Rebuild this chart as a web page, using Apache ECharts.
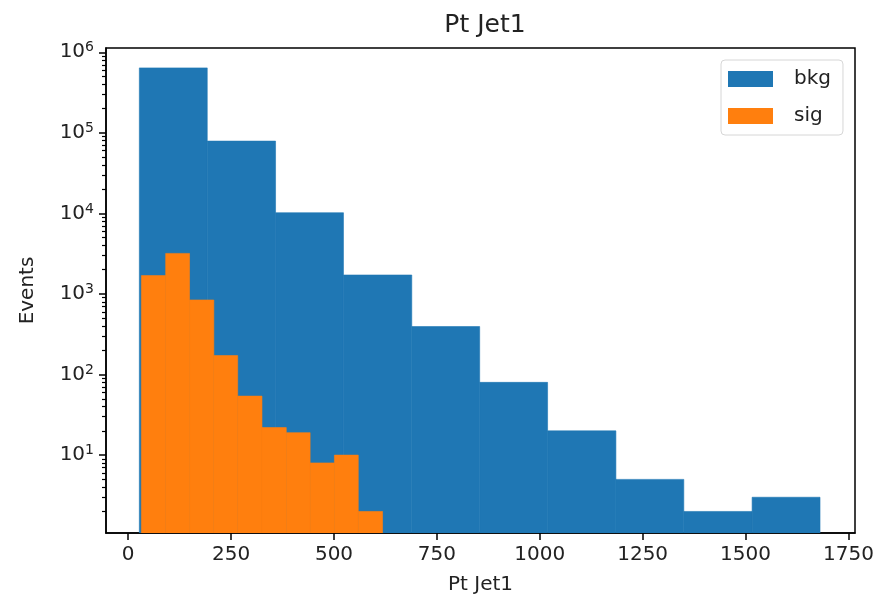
<!DOCTYPE html>
<html>
<head>
    <meta charset="UTF-8"/>
    <title>Pt Jet1</title>
    <style>
        html, body { margin: 0; padding: 0; background: #fff; }
        #chart { width: 880px; height: 603px; }
    </style>
</head>
<body>
<div id="chart"></div>
<script src="https://cdn.jsdelivr.net/npm/echarts@6/dist/echarts.min.js" type="text/javascript"></script>
<script type="text/javascript">
    // 直方图数据 (bin 边界 + 计数)
    const bkgEdges = [27, 192, 358, 523, 689, 854, 1019, 1185, 1350, 1516, 1681];
    const bkgCounts = [640000, 79000, 10200, 1720, 394, 80, 20, 5, 2, 3];
    const sigEdges = [32, 91, 149, 208, 266, 325, 384, 442, 501, 559, 618];
    const sigCounts = [1690, 3190, 843, 172, 54, 22, 19, 8, 10, 2];

    const xTicks = [0, 250, 500, 750, 1000, 1250, 1500, 1750];
    const yTicks = [10, 100, 1000, 10000, 100000, 1000000];
    const yMinorTicks = [2, 3, 4, 5, 6, 7, 8, 9,
        20, 30, 40, 50, 60, 70, 80, 90,
        200, 300, 400, 500, 600, 700, 800, 900,
        2000, 3000, 4000, 5000, 6000, 7000, 8000, 9000,
        20000, 30000, 40000, 50000, 60000, 70000, 80000, 90000,
        200000, 300000, 400000, 500000, 600000, 700000, 800000, 900000];

    const FONT = "DejaVu Sans";
    const yMin = 1.08, yMax = 1.13e6;

    function histData(edges, counts) {
        const out = [];
        for (let i = 0; i < counts.length; i++) {
            out.push([edges[i], edges[i + 1], counts[i]]);
        }
        return out;
    }

    function renderBin(params, api) {
        const p0 = api.coord([api.value(0), api.value(2)]);
        const p1 = api.coord([api.value(1), yMin]);
        const color = api.visual("color");
        return {
            type: "rect",
            shape: {x: p0[0], y: p0[1], width: p1[0] - p0[0], height: p1[1] - p0[1]},
            style: {fill: color, stroke: color, lineWidth: 0.6}
        };
    }

    const chart = echarts.init(document.getElementById("chart"));
    const axisLine = {show: true, onZero: false, lineStyle: {color: "#000", width: 1.5}};
    const option = {
        animation: false,
        textStyle: {fontFamily: FONT},
        title: {
            text: "Pt Jet1",
            left: 480,
            top: 8,
            textAlign: "center",
            textStyle: {fontFamily: FONT, fontSize: 25, fontWeight: "normal", color: "#222"}
        },
        legend: {
            orient: "vertical",
            left: 721,
            top: 60,
            padding: [9, 12, 9, 7],
            itemWidth: 45,
            itemHeight: 16,
            itemGap: 17,
            borderColor: "#d6d6d6",
            borderWidth: 1,
            borderRadius: 4,
            textStyle: {fontFamily: FONT, fontSize: 20, color: "#222", lineHeight: 16, padding: [0, 0, 0, 16]},
            data: [{name: "bkg", icon: "rect"}, {name: "sig", icon: "rect"}]
        },
        grid: {
            left: 106, right: 25, top: 48, bottom: 70,
            show: true, borderColor: "#000", borderWidth: 1.5, backgroundColor: "transparent"
        },
        xAxis: {
            type: "value",
            min: -54,
            max: 1766,
            name: "Pt Jet1",
            nameLocation: "middle",
            nameGap: 42,
            nameTextStyle: {fontFamily: FONT, fontSize: 20, color: "#222"},
            axisLine: axisLine,
            axisTick: {show: true, inside: false, length: 7, customValues: xTicks, lineStyle: {color: "#000", width: 1.5}},
            axisLabel: {
                customValues: xTicks,
                fontFamily: FONT, fontSize: 20, color: "#222", margin: 12,
                formatter: function (v) { return String(v); }
            },
            splitLine: {show: false}
        },
        yAxis: [{
            type: "log",
            logBase: 10,
            min: yMin,
            max: yMax,
            name: "Events",
            nameLocation: "middle",
            nameGap: 68,
            nameTextStyle: {fontFamily: FONT, fontSize: 20, color: "#222"},
            axisLine: axisLine,
            axisTick: {show: true, inside: false, length: 7, customValues: yTicks, lineStyle: {color: "#000", width: 1.5}},
            axisLabel: {
                customValues: yTicks,
                margin: 12,
                formatter: function (v) {
                    return "{b|10}{e|" + Math.round(Math.log10(v)) + "}";
                },
                rich: {
                    b: {fontFamily: FONT, fontSize: 20, color: "#222"},
                    e: {fontFamily: FONT, fontSize: 14, color: "#222", padding: [0, 0, 9, 0]}
                }
            },
            splitLine: {show: false}
        }, {
            type: "log",
            logBase: 10,
            min: yMin,
            max: yMax,
            position: "left",
            axisLine: {show: false, onZero: false},
            axisTick: {show: true, inside: false, length: 4, customValues: yMinorTicks, lineStyle: {color: "#000", width: 1.2}},
            axisLabel: {show: false},
            splitLine: {show: false}
        }],
        series: [{
            name: "bkg",
            type: "custom",
            renderItem: renderBin,
            clip: true,
            itemStyle: {color: "#1f77b4"},
            encode: {x: [0, 1], y: 2},
            data: histData(bkgEdges, bkgCounts)
        }, {
            name: "sig",
            type: "custom",
            renderItem: renderBin,
            clip: true,
            itemStyle: {color: "#ff7f0e"},
            encode: {x: [0, 1], y: 2},
            data: histData(sigEdges, sigCounts)
        }]
    };
    chart.setOption(option);
</script>
</body>
</html>
